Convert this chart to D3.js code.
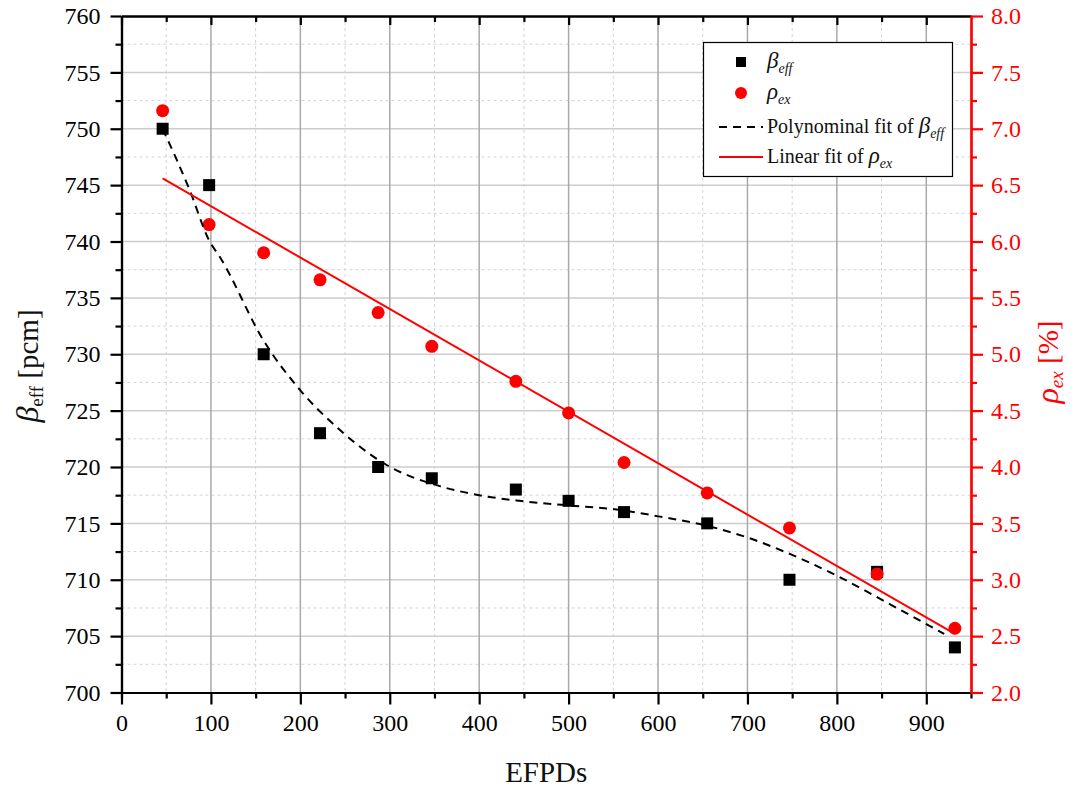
<!DOCTYPE html>
<html>
  <head>
    <meta charset="UTF-8">
    <title>beta eff and rho ex vs EFPDs</title>
  </head>
  <style type="text/css">
    body { margin: 0; background: #fff; }
    svg { font-family: "Liberation Serif", "Times New Roman", serif; }
    .axis text { font-size: 24px; font-family: "Liberation Serif", "Times New Roman", serif; }
    .axis path, .axis line { stroke-width: 2.2px; }
  </style>
  <body>
    <svg width="1079" height="789"></svg>
  </body>
  <script src="https://d3js.org/d3.v7.min.js"></script>
  <script type="text/javascript">
    // EFPD positions of the measured points
    let efpd = [46, 98, 159, 222, 287, 347, 441, 500, 562, 655, 747, 845, 932];
    let betaEff = [750, 745, 730, 723, 720, 719, 718, 717, 716, 715, 710, 710.7, 704];
    let rhoEx = [7.16, 6.15, 5.90, 5.66, 5.37, 5.07, 4.76, 4.48, 4.04, 3.77, 3.46, 3.05, 2.57];

    // polynomial fit of beta
    let polyX = [46, 76, 98, 111, 159, 200, 244, 296, 356, 400, 445, 499, 557, 602, 654, 698, 750, 799, 860, 920];
    let polyY = [750, 744.6, 740.1, 738.5, 731.2, 726.8, 723.3, 720.2, 718.3, 717.5, 717.0, 716.6, 716.2, 715.6, 714.8, 713.8, 712.2, 710.4, 707.8, 705.2];

    // linear fit of rho, end points
    let linX = [46, 932];
    let linY = [6.56, 2.52];

    let xTicks = [0, 100, 200, 300, 400, 500, 600, 700, 800, 900];
    let yTicks = [700, 705, 710, 715, 720, 725, 730, 735, 740, 745, 750, 755, 760];
    let rTicks = [2.0, 2.5, 3.0, 3.5, 4.0, 4.5, 5.0, 5.5, 6.0, 6.5, 7.0, 7.5, 8.0];

    let svg = d3.select('svg');
    const L = 121.5, R = 971, T = 16, B = 692.5;

    const x = d3.scaleLinear().domain([0, 950]).range([L, R]);
    const y = d3.scaleLinear().domain([700, 760]).range([B, T]);
    const yr = d3.scaleLinear().domain([2, 8]).range([B, T]);

    const xMinor = d3.range(50, 950, 100);
    const yMinor = d3.range(702.5, 760, 5);

    // grid
    const grid = svg.append('g');
    grid.selectAll('.vmin').data(xMinor).enter().append('line')
      .attr('x1', d => x(d)).attr('x2', d => x(d)).attr('y1', T).attr('y2', B)
      .attr('stroke', '#d4d4d4').attr('stroke-dasharray', '3,3').attr('stroke-width', 1);
    grid.selectAll('.hmin').data(yMinor).enter().append('line')
      .attr('x1', L).attr('x2', R).attr('y1', d => y(d)).attr('y2', d => y(d))
      .attr('stroke', '#d4d4d4').attr('stroke-dasharray', '3,3').attr('stroke-width', 1);
    grid.selectAll('.hmaj').data(yTicks.slice(1, -1)).enter().append('line')
      .attr('x1', L).attr('x2', R).attr('y1', d => y(d)).attr('y2', d => y(d))
      .attr('stroke', '#cdcdcd').attr('stroke-width', 1.5);
    grid.selectAll('.vmaj').data(xTicks.slice(1)).enter().append('line')
      .attr('x1', d => x(d)).attr('x2', d => x(d)).attr('y1', T).attr('y2', B)
      .attr('stroke', '#a9a9a9').attr('stroke-width', 1.5);

    // axes
    svg.append('g').attr('class', 'axis').attr('transform', 'translate(0,' + B + ')')
      .call(d3.axisBottom(x).tickValues(xMinor).tickSize(6).tickFormat(''));
    svg.append('g').attr('class', 'axis').attr('transform', 'translate(0,' + B + ')')
      .call(d3.axisBottom(x).tickValues(xTicks).tickSize(12).tickPadding(9).tickSizeOuter(0).tickFormat(d3.format('d')));

    svg.append('g').attr('class', 'axis').attr('transform', 'translate(0,' + T + ')')
      .call(d3.axisTop(x).tickValues(xMinor).tickSize(-6).tickFormat('').tickSizeOuter(0));
    svg.append('g').attr('class', 'axis').attr('transform', 'translate(0,' + T + ')')
      .call(d3.axisTop(x).tickValues(xTicks).tickSize(-9).tickFormat('').tickSizeOuter(0));

    svg.append('g').attr('class', 'axis').attr('transform', 'translate(' + L + ',0)')
      .call(d3.axisLeft(y).tickValues(yMinor).tickSize(6).tickFormat('').tickSizeOuter(0));
    svg.append('g').attr('class', 'axis').attr('transform', 'translate(' + L + ',0)')
      .call(d3.axisLeft(y).tickValues(yTicks).tickSize(11).tickPadding(10).tickSizeOuter(0).tickFormat(d3.format('d')));

    const rMinor = d3.range(2.25, 8, 0.5);
    const right1 = svg.append('g').attr('class', 'axis').attr('transform', 'translate(' + R + ',0)')
      .call(d3.axisRight(yr).tickValues(rMinor).tickSize(6).tickFormat('').tickSizeOuter(0));
    const right2 = svg.append('g').attr('class', 'axis').attr('transform', 'translate(' + R + ',0)')
      .call(d3.axisRight(yr).tickValues(rTicks).tickSize(12).tickPadding(8).tickSizeOuter(0).tickFormat(d3.format('.1f')));
    [right1, right2].forEach(g => {
      g.selectAll('path, line').attr('stroke', 'red');
      g.selectAll('text').attr('fill', 'red');
    });

    // series
    const sq = 12;
    svg.append('g').selectAll('rect').data(efpd).enter().append('rect')
      .attr('x', d => x(d) - sq / 2)
      .attr('y', (d, i) => y(betaEff[i]) - sq / 2)
      .attr('width', sq).attr('height', sq).attr('fill', '#000');

    svg.append('g').selectAll('circle').data(efpd).enter().append('circle')
      .attr('cx', d => x(d))
      .attr('cy', (d, i) => yr(rhoEx[i]))
      .attr('r', 6.5).attr('fill', 'red');

    const polyLine = d3.line().curve(d3.curveMonotoneX)
      .x(d => x(d[0])).y(d => y(d[1]));
    svg.append('path').datum(d3.zip(polyX, polyY))
      .attr('d', polyLine)
      .attr('fill', 'none').attr('stroke', '#000').attr('stroke-width', 2)
      .attr('stroke-dasharray', '8,6');

    const linLine = d3.line().x(d => x(d[0])).y(d => yr(d[1]));
    svg.append('path').datum(d3.zip(linX, linY))
      .attr('d', linLine)
      .attr('fill', 'none').attr('stroke', 'red').attr('stroke-width', 2);

    // axis titles
    svg.append('text').attr('x', x(475)).attr('y', 782)
      .attr('text-anchor', 'middle').attr('font-size', 29).attr('fill', '#111').text('EFPDs');

    const lt = svg.append('text')
      .attr('transform', 'translate(38,366) rotate(-90)')
      .attr('text-anchor', 'middle').attr('font-size', 29).attr('fill', '#111');
    lt.append('tspan').attr('font-style', 'italic').attr('font-size', 32).text('β');
    lt.append('tspan').attr('font-size', 19).attr('dy', 5).text('eff');
    lt.append('tspan').attr('dy', -5).text(' [pcm]');

    const rt = svg.append('text')
      .attr('transform', 'translate(1058,362) rotate(-90)')
      .attr('text-anchor', 'middle').attr('font-size', 29).attr('fill', 'red');
    rt.append('tspan').attr('font-style', 'italic').attr('font-size', 32).text('ρ');
    rt.append('tspan').attr('font-style', 'italic').attr('font-size', 19).attr('dy', 5).text('ex');
    rt.append('tspan').attr('dy', -5).text(' [%]');

    // legend
    const lg = svg.append('g');
    lg.append('rect').attr('x', 703.5).attr('y', 42.5).attr('width', 249).attr('height', 134)
      .attr('fill', '#fff').attr('stroke', '#000').attr('stroke-width', 1.2);
    lg.append('rect').attr('x', 736).attr('y', 57).attr('width', 10).attr('height', 10).attr('fill', '#000');
    lg.append('circle').attr('cx', 741).attr('cy', 93).attr('r', 6).attr('fill', 'red');
    lg.append('line').attr('x1', 719).attr('x2', 763).attr('y1', 127).attr('y2', 127)
      .attr('stroke', '#000').attr('stroke-width', 2).attr('stroke-dasharray', '8,6');
    lg.append('line').attr('x1', 719).attr('x2', 763).attr('y1', 157).attr('y2', 157)
      .attr('stroke', 'red').attr('stroke-width', 2);

    const legendText = (yy, pre, sym, sub) => {
      const t = lg.append('text').attr('x', 767).attr('y', yy).attr('font-size', 20).attr('fill', '#111');
      if (pre) t.append('tspan').text(pre);
      t.append('tspan').attr('font-style', 'italic').attr('font-size', 23).text(sym);
      t.append('tspan').attr('font-style', 'italic').attr('font-size', 14).attr('dy', 5).text(sub);
    };
    legendText(68, null, 'β', 'eff');
    legendText(99, null, 'ρ', 'ex');
    legendText(133, 'Polynominal fit of ', 'β', 'eff');
    legendText(163, 'Linear fit of ', 'ρ', 'ex');
  </script>
</html>
